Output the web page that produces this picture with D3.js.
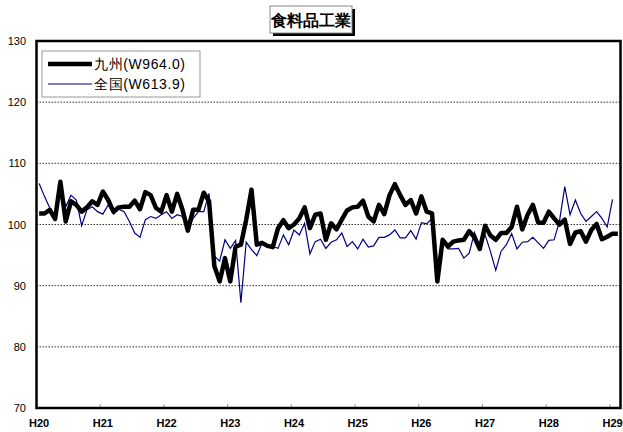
<!DOCTYPE html>
<html>
<head>
<meta charset="utf-8">
<script src="https://cdn.jsdelivr.net/npm/d3@7"></script>
<style>
body { margin: 0; background: #fff; }
text { font-family: "Liberation Sans", Arial, sans-serif; }
</style>
</head>
<body>
<svg id="chart" width="623" height="432"></svg>
<script>
// monthly index, H20.1 - H29.2
var kyushu = [101.8,101.8,102.4,100.9,107.0,100.5,103.8,103.2,102.1,102.8,103.8,103.2,
	105.4,104.0,102.1,102.8,102.9,102.9,103.9,102.5,105.3,104.8,102.7,102.1,
	104.8,102.1,105.0,102.4,99.0,102.4,102.4,105.2,103.8,93.2,90.7,94.5,
	90.7,96.4,96.7,100.8,105.7,96.7,97.0,96.5,96.3,99.4,100.7,99.4,
	100.0,101.0,102.8,99.4,101.6,101.8,97.5,100.2,99.2,100.8,102.3,102.8,
	102.9,103.9,101.3,100.5,103.2,101.7,104.8,106.6,104.8,103.2,104.0,101.8,
	104.6,102.1,101.8,90.7,97.5,96.4,97.2,97.4,97.5,98.9,97.9,96.0,
	99.8,98.2,97.5,98.6,98.6,99.6,102.9,99.2,101.6,103.2,100.3,100.3,
	102.1,101.0,100.0,100.8,96.8,98.7,98.9,97.2,99.1,100.1,97.6,98.0,
	98.5,98.5];
var zenkoku = [106.7,104.6,102.7,101.3,106.5,102.9,104.8,104.0,99.8,102.4,102.9,102.1,
	101.7,103.2,101.7,102.5,102.1,100.5,98.6,97.9,100.8,101.3,101.0,101.6,
	102.1,101.0,101.6,101.3,99.1,101.0,102.1,102.1,105.1,94.8,94.0,97.5,
	96.1,97.4,87.2,97.1,95.9,94.9,97.0,96.7,96.4,96.1,98.3,96.7,
	99.1,98.3,100.2,95.2,97.2,97.6,96.1,97.1,97.5,98.6,96.4,97.2,
	96.0,97.6,96.3,96.5,97.9,97.9,98.3,99.1,97.8,97.8,99.0,97.6,
	100.3,100.1,101.0,93.2,97.6,96.0,96.0,96.1,94.5,95.3,98.7,96.4,
	98.3,95.6,92.5,95.6,96.7,98.5,96.0,97.1,97.2,97.9,97.0,96.1,
	97.4,97.5,100.5,106.2,101.6,104.0,101.8,100.5,101.3,102.1,101.0,99.6,
	104.1];
var yearLabels = ["H20","H21","H22","H23","H24","H25","H26","H27","H28","H29"];
var yTicks = [70,80,90,100,110,120,130];
var seriesNames = ["九州(W964.0)", "全国(W613.9)"];

var months = d3.range(kyushu.length);

var svg = d3.select("#chart");
var pLeft = 36.5, pRight = 620.5, pTop = 41, pBottom = 408;

var x = d3.scaleBand().domain(months).range([pLeft, pRight]);
var y = d3.scaleLinear().domain([70, 130]).range([pBottom, pTop]);

// grid
svg.append("g").selectAll("line").data(yTicks.slice(1, -1)).enter().append("line")
	.attr("x1", pLeft).attr("x2", pRight)
	.attr("y1", function(d){ return y(d) }).attr("y2", function(d){ return y(d) })
	.attr("stroke", "#333").attr("stroke-width", 1).attr("stroke-dasharray", "1.5,1.5");

// y labels
svg.append("g").selectAll("text").data(yTicks).enter().append("text")
	.attr("x", 26).attr("y", function(d){ return y(d) + 4 })
	.attr("text-anchor", "end").attr("font-size", "11px")
	.text(function(d){ return d });

// x ticks + labels
var yearStarts = yearLabels.map(function(d, i){ return i * 12 });
svg.append("g").selectAll("line").data(yearStarts.slice(1)).enter().append("line")
	.attr("x1", function(d){ return x(d) }).attr("x2", function(d){ return x(d) })
	.attr("y1", pBottom).attr("y2", pBottom - 4)
	.attr("stroke", "#999");
svg.append("g").selectAll("text").data(yearLabels).enter().append("text")
	.attr("x", function(d, i){ return i * 12 < months.length ? x(i * 12) + x.bandwidth() / 2 : pRight - 6 })
	.attr("y", 427).attr("text-anchor", "middle").attr("font-size", "11px")
	.attr("font-weight", "bold")
	.text(function(d){ return d });

var line = d3.line()
	.x(function(d, i){ return x(i) + x.bandwidth() / 2 })
	.y(function(d){ return y(d) });

svg.append("path").datum(zenkoku)
	.attr("d", line).attr("fill", "none")
	.attr("stroke", "#000080").attr("stroke-width", 1.2);
svg.append("path").datum(kyushu)
	.attr("d", line).attr("fill", "none")
	.attr("stroke", "#000").attr("stroke-width", 4.5).attr("stroke-linejoin", "round");

// frame
svg.append("rect")
	.attr("x", pLeft).attr("y", pTop).attr("width", pRight - pLeft).attr("height", pBottom - pTop)
	.attr("fill", "none").attr("stroke", "#000").attr("stroke-width", 2.5);

// legend
var lg = svg.append("g").attr("transform", "translate(42,51)");
lg.append("rect").attr("width", 158).attr("height", 46)
	.attr("fill", "#fff").attr("stroke", "#999").attr("stroke-width", 1);
[{w: 4.5, c: "#000"}, {w: 1.2, c: "#000080"}].forEach(function(s, i){
	var ly = 13 + i * 20;
	lg.append("line").attr("x1", 6).attr("x2", 50).attr("y1", ly).attr("y2", ly)
		.attr("stroke", s.c).attr("stroke-width", s.w);
	lg.append("text").attr("x", 52).attr("y", ly + 5).attr("font-size", "14px")
		.attr("letter-spacing", "0.6px")
		.attr("font-family", "'Noto Sans CJK JP', sans-serif")
		.text(seriesNames[i]);
});

// title
var tg = svg.append("g").attr("transform", "translate(270,6)");
tg.append("rect").attr("x", 3).attr("y", 3).attr("width", 82).attr("height", 27).attr("fill", "#000");
tg.append("rect").attr("width", 82).attr("height", 27).attr("fill", "#fff").attr("stroke", "#888");
tg.append("text").attr("x", 41).attr("y", 20).attr("text-anchor", "middle")
	.attr("font-size", "16px").attr("font-weight", "bold")
	.attr("font-family", "'Noto Sans CJK JP', sans-serif")
	.text("食料品工業");
</script>
</body>
</html>
